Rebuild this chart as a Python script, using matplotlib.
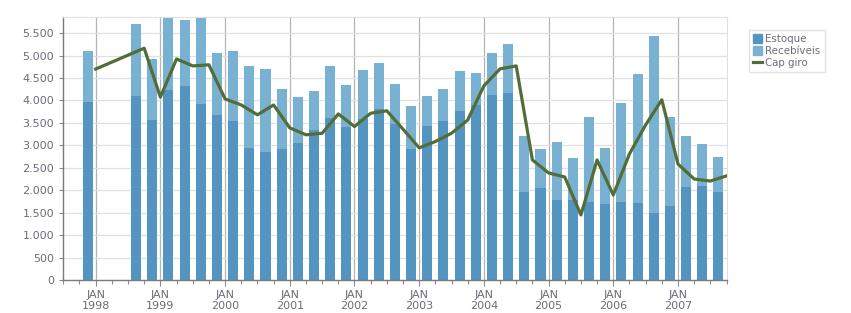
import matplotlib
matplotlib.use('Agg')
import matplotlib.pyplot as plt
import numpy as np
import pandas as pd
from matplotlib.patches import Patch
from matplotlib.lines import Line2D
from matplotlib.ticker import FuncFormatter, MultipleLocator

# quarterly data (quarter of each bar; line point at quarter end)
quarters = ['1997Q4', '1998Q3', '1998Q4',
            '1999Q1', '1999Q2', '1999Q3', '1999Q4',
            '2000Q1', '2000Q2', '2000Q3', '2000Q4',
            '2001Q1', '2001Q2', '2001Q3', '2001Q4',
            '2002Q1', '2002Q2', '2002Q3', '2002Q4',
            '2003Q1', '2003Q2', '2003Q3', '2003Q4',
            '2004Q1', '2004Q2', '2004Q3', '2004Q4',
            '2005Q1', '2005Q2', '2005Q3', '2005Q4',
            '2006Q1', '2006Q2', '2006Q3', '2006Q4',
            '2007Q1', '2007Q2', '2007Q3']
estoque = [3970, 4100, 3570,
           4240, 4330, 3920, 3680,
           3545, 2945, 2855, 2920,
           3055, 3345, 3610, 3410,
           3590, 3810, 3480, 2920,
           3435, 3545, 3770, 3900,
           4125, 4170, 1960, 2050,
           1785, 1785, 1740, 1695,
           1740, 1715, 1495, 1650,
           2075, 2095, 1960]
recebiveis = [1135, 1610, 1355,
              1600, 1470, 1920, 1380,
              1560, 1825, 1850, 1340,
              1025, 870, 1160, 940,
              1090, 1025, 890, 960,
              665, 715, 890, 715,
              935, 1090, 1250, 870,
              1290, 935, 1895, 1250,
              2205, 2875, 3945, 1985,
              1135, 935, 780]
cap_giro = [4700, 5165, 4075,
            4925, 4770, 4795, 4035,
            3900, 3680, 3900, 3390,
            3235, 3270, 3700, 3420,
            3715, 3770, 3360, 2945,
            3085, 3270, 3565, 4325,
            4705, 4770, 2675, 2385,
            2295, 1450, 2675, 1895,
            2810, 3455, 4015, 2585,
            2250, 2205, 2320]
years = list(range(1998, 2008))

per = pd.PeriodIndex(quarters, freq='Q')
x_end = np.array([p.year + p.quarter / 4 for p in per])   # quarter end as fractional year
x_bar = x_end - 0.125

c_est = '#5494c1'
c_rec = '#79b1d3'
c_line = '#536d38'
c_txt = '#6b6b7b'

fig = plt.figure(figsize=(8.51, 3.13), dpi=100)
ax = fig.add_axes([63/851, 1-280/313, (726.7-63)/851, (280-17)/313])

ax.bar(x_bar, estoque, width=0.155, color=c_est, zorder=2)
ax.bar(x_bar, recebiveis, width=0.155, bottom=estoque, color=c_rec, zorder=2)
ax.plot(x_end, cap_giro, color=c_line, lw=2.3, zorder=3)

ax.set_xlim(1997.495, 2007.753)
ax.set_ylim(0, 5860)

ax.yaxis.set_major_locator(MultipleLocator(500))
ax.yaxis.set_major_formatter(FuncFormatter(lambda v, p: f'{int(v):,}'.replace(',', '.')))
ax.set_xticks(years)
ax.set_xticklabels([f'JAN\n{y}' for y in years])
ax.set_xticks(np.arange(1997.5, 2007.8, 0.25), minor=True)

ax.grid(axis='y', color='#e0e0e0', lw=0.9, zorder=0)
ax.grid(axis='x', color='#b4b4b4', lw=0.9, zorder=0)
ax.set_axisbelow(True)

for s in ['top', 'right']:
    ax.spines[s].set_color('#e0e0e0')
for s in ['left', 'bottom']:
    ax.spines[s].set_color('#7a7a7a')
    ax.spines[s].set_linewidth(1.0)

ax.tick_params(axis='both', which='both', colors='#8a8a8a', labelcolor=c_txt, labelsize=8, length=3, width=0.8)
ax.tick_params(axis='x', which='major', length=4, pad=3)

handles = [Patch(color=c_est, label='Estoque'),
           Patch(color=c_rec, label='Recebíveis'),
           Line2D([0], [0], color=c_line, lw=2.3, label='Cap giro')]
leg = fig.legend(handles=handles, loc='upper left', bbox_to_anchor=(749/851, 1-30/313),
                 fontsize=7.4, frameon=True, fancybox=False, handlelength=0.9, handleheight=0.9,
                 handletextpad=0.3, borderpad=0.4, labelspacing=0.2, borderaxespad=0)
leg.get_frame().set_edgecolor('#dcdcdc')
leg.get_frame().set_linewidth(1.0)
for t in leg.get_texts():
    t.set_color(c_txt)

fig.savefig('out.png', dpi=100)
